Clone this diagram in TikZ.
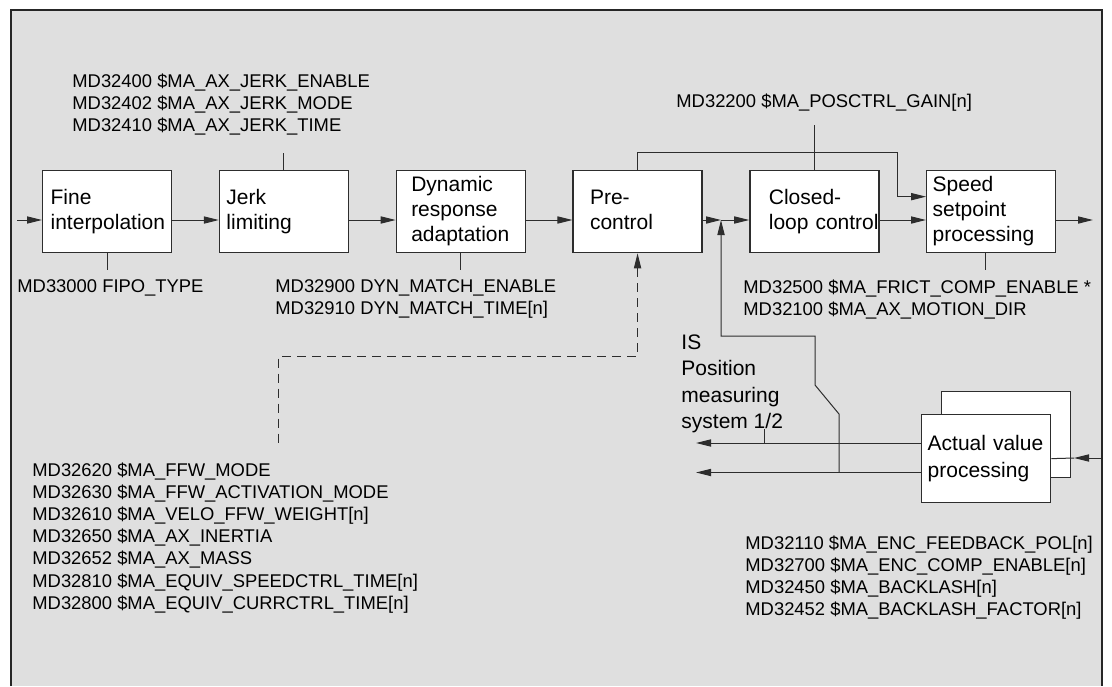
\documentclass[tikz,border=0pt]{standalone}
\usepackage{fontspec}
\setmainfont{Liberation Sans}
\usetikzlibrary{positioning, arrows.meta}

\definecolor{bggray}{RGB}{223,223,223}
\definecolor{wirecol}{RGB}{45,45,45}
\newcommand{\boxfnt}{\fontsize{10.5}{12.6}\selectfont}
\newcommand{\mdfnt}{\fontsize{9.2}{11.1}\selectfont}
\newcommand{\blktxt}[2]{\hspace*{#1}\begin{tabular}{@{}l@{}}#2\end{tabular}}

\begin{document}
\begin{tikzpicture}[x=0.5pt, y=-0.5pt, >={Triangle[length=7.5pt, width=3.6pt]}, node distance=23.25pt,
    blk/.style={draw=wirecol, line width=0.65pt, fill=white, minimum height=41pt,
      text width=64.5pt, inner xsep=0pt, inner ysep=0pt, align=left, font=\boxfnt},
    md/.style={anchor=north west, inner sep=0pt, align=left, font=\mdfnt},
    wire/.style={draw=wirecol, line width=0.5pt},
    dsh/.style={dash pattern=on 4.5pt off 3pt}]
      \useasboundingbox (0,0) rectangle (1112,686);
      \fill[bggray] (11,10) rectangle (1102,686);
      \draw[line width=1pt, black!85] (11,686) -- (11,10) -- (1102,10) -- (1102,686);

      \node[blk, anchor=north west] (fine) at (42,170) {\blktxt{4pt}{Fine\\interpolation}};
      \node[blk, right=of fine] (jerk) {\blktxt{3.5pt}{Jerk\\limiting}};
      \node[blk, right=of jerk] (dyn) {\blktxt{7.5pt}{Dynamic\\response\\adaptation}};
      \node[blk, right=of dyn] (pre) {\blktxt{8.5pt}{Pre-\\control}};
      \node[blk, right=of pre] (clc) {\blktxt{9.5pt}{\raisebox{-5pt}{\begin{tabular}{@{}l@{}}Closed-\\loop control\end{tabular}}}};
      \node[blk, right=of clc] (spd) {\blktxt{3pt}{Speed\\setpoint\\processing}};
      \node[blk, minimum height=43pt, anchor=north west] (avback) at (941,391) {};
      \node[blk, minimum height=44pt, anchor=north west, font=\fontsize{10.5}{13.5}\selectfont] (av) at (921,414)
        {\blktxt{3pt}{Actual value\\processing}};

      \node[md] (jerkmd) at (72,73) {MD32400 \$MA\_AX\_JERK\_ENABLE\\MD32402 \$MA\_AX\_JERK\_MODE\\MD32410 \$MA\_AX\_JERK\_TIME};
      \node[md] (gain) at (676,93) {MD32200 \$MA\_POSCTRL\_GAIN[n]};
      \node[md] (fipo) at (17,279) {MD33000 FIPO\_TYPE};
      \node[md] (dynmd) at (275,279) {MD32900 DYN\_MATCH\_ENABLE\\MD32910 DYN\_MATCH\_TIME[n]};
      \node[md] (frict) at (743,279) {MD32500 \$MA\_FRICT\_COMP\_ENABLE *\\MD32100 \$MA\_AX\_MOTION\_DIR};
      \node[md] (ffw) at (32,462) {MD32620 \$MA\_FFW\_MODE\\MD32630 \$MA\_FFW\_ACTIVATION\_MODE\\MD32610 \$MA\_VELO\_FFW\_WEIGHT[n]\\MD32650 \$MA\_AX\_INERTIA\\MD32652 \$MA\_AX\_MASS\\MD32810 \$MA\_EQUIV\_SPEEDCTRL\_TIME[n]\\MD32800 \$MA\_EQUIV\_CURRCTRL\_TIME[n]};
      \node[md] (enc) at (745,535) {MD32110 \$MA\_ENC\_FEEDBACK\_POL[n]\\MD32700 \$MA\_ENC\_COMP\_ENABLE[n]\\MD32450 \$MA\_BACKLASH[n]\\MD32452 \$MA\_BACKLASH\_FACTOR[n]};
      \node[md, font=\fontsize{10.5}{13.25}\selectfont] (is) at (681,334) {IS\\Position\\measuring\\system 1/2};

      \coordinate (fl) at (0,220);
      \coordinate (in) at (17,220);
      \coordinate (sum) at (721,220);
      \coordinate (out) at (1093,220);
      \draw[wire, ->] (in) -- (in -| fine.west);
      \foreach \a/\b in {fine/jerk, jerk/dyn, dyn/pre, clc/spd} {
        \draw[wire, ->] (\a.east |- fl) -- (\b.west |- fl);
      }
      \draw[wire, ->] (pre.east |- fl) -- (sum);
      \draw[wire, ->] (sum) -- (clc.west |- fl);
      \draw[wire, ->] (spd.east |- fl) -- (out);

      \coordinate (ffk) at (897,152);
      \draw[wire, ->] (pre.north) |- (ffk) |- ([yshift=7.5pt]spd.west);

      \draw[wire, shorten >=9pt] (jerk.north) -- (jerk.north |- jerkmd.south);
      \draw[wire, shorten >=7pt] (clc.north) -- (clc.north |- gain.south);
      \draw[wire, shorten >=4.5pt] (fine.south) -- (fine.south |- fipo.north);
      \draw[wire, shorten >=4.5pt] (dyn.south) -- (dyn.south |- dynmd.north);
      \draw[wire, shorten >=4.5pt] ([xshift=-3pt]spd.south) -- ([xshift=-3pt]spd.south |- frict.north);

      \coordinate (dk) at (278,356);
      \draw[wire, dsh, <-, shorten >=7.5pt] (pre.south) |- (dk) -- (dk |- ffw.north);

      \coordinate (is1) at (696,443);
      \coordinate (is2) at (696,472.5);
      \draw[wire, ->] (av.west |- is1) -- (is1);
      \draw[wire, ->] (av.west |- is2) -- (is2);
      \coordinate (tick) at (764,429);
      \draw[wire] (tick) -- (tick |- is1);
      \coordinate (fb) at (839,472.5);
      \coordinate (fbk) at (815,336);
      \draw[wire, ->] (fb) -- ++(0,-58.5) -- ++(-24,-29) -- (fbk) -| (sum);

      \coordinate (inr) at (1101,458);
      \coordinate (avin) at (1074,458);
      \draw[wire, ->] (inr) -- (avin);
      \draw[wire] (avin) -- (av.east);
\end{tikzpicture}
\end{document}
